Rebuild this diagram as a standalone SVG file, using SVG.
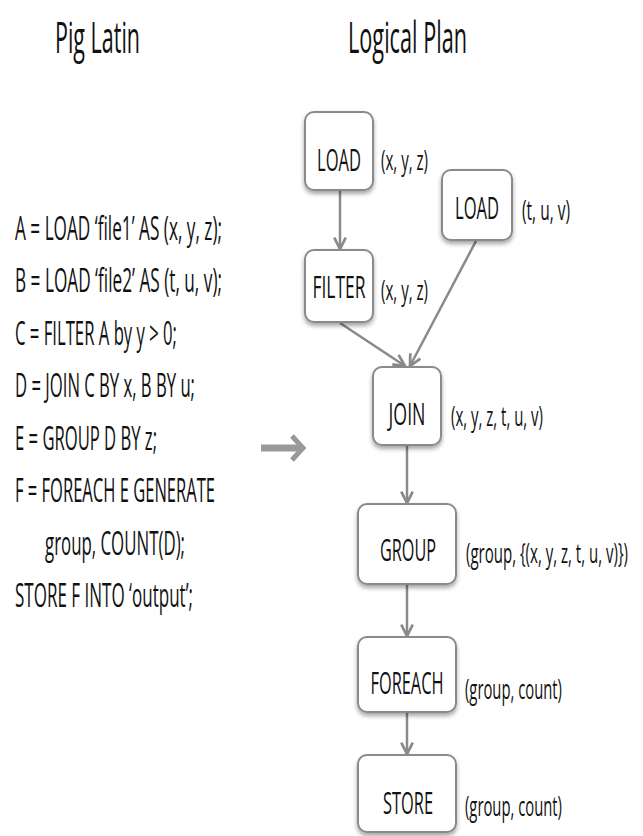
<svg xmlns="http://www.w3.org/2000/svg" width="643" height="836" viewBox="0 0 643 836">
<style>
  text { font-family: "Open Sans", "Liberation Sans", sans-serif; fill: #111; font-weight: 500; }
  .title { font-size: 43px; }
  .code { font-size: 33px; }
  .node text { font-size: 31px; text-anchor: middle; }
  .lbl { font-size: 28px; }
  .box { fill: #fff; stroke: #8a8a8a; stroke-width: 2; filter: url(#sh); }
  .edge { stroke: #8a8a8a; stroke-width: 2.5; fill: none; marker-end: url(#ah); }
</style>
<defs>
  <filter id="sh" x="-20%" y="-20%" width="140%" height="150%">
    <feDropShadow dx="0" dy="3" stdDeviation="2" flood-color="#000" flood-opacity="0.35"/>
  </filter>
  <marker id="ah" viewBox="0 0 12 12" refX="11" refY="6" markerWidth="5.5" markerHeight="5.5" orient="auto" markerUnits="strokeWidth">
    <path d="M1,1 L11,6 L1,11" fill="none" stroke="#8a8a8a" stroke-width="2.4"/>
  </marker>
</defs>

<g id="titles">
  <text class="title" transform="matrix(0.5,0,0,1,55,53)" textLength="170" lengthAdjust="spacingAndGlyphs">Pig Latin</text>
  <text class="title" transform="matrix(0.5,0,0,1,348,53)" textLength="238" lengthAdjust="spacingAndGlyphs">Logical Plan</text>
</g>

<g id="code">
  <text class="code" transform="matrix(0.54,0,0,1,15,240)" textLength="383.3" lengthAdjust="spacingAndGlyphs">A = LOAD ‘file1’ AS (x, y, z);</text>
  <text class="code" transform="matrix(0.54,0,0,1,15,292)" textLength="383.3" lengthAdjust="spacingAndGlyphs">B = LOAD ‘file2’ AS (t, u, v);</text>
  <text class="code" transform="matrix(0.54,0,0,1,15,345)" textLength="300" lengthAdjust="spacingAndGlyphs">C = FILTER A by y &gt; 0;</text>
  <text class="code" transform="matrix(0.54,0,0,1,15,397)" textLength="333.3" lengthAdjust="spacingAndGlyphs">D = JOIN C BY x, B BY u;</text>
  <text class="code" transform="matrix(0.54,0,0,1,15,450)" textLength="263" lengthAdjust="spacingAndGlyphs">E = GROUP D BY z;</text>
  <text class="code" transform="matrix(0.54,0,0,1,15,502)" textLength="370.4" lengthAdjust="spacingAndGlyphs">F = FOREACH E GENERATE</text>
  <text class="code" transform="matrix(0.54,0,0,1,45,555)" textLength="259.3" lengthAdjust="spacingAndGlyphs">group, COUNT(D);</text>
  <text class="code" transform="matrix(0.54,0,0,1,15,607)" textLength="329.6" lengthAdjust="spacingAndGlyphs">STORE F INTO ‘output’;</text>
</g>

<g id="bigarrow" fill="none" stroke="#999" stroke-linecap="butt">
  <line x1="261" y1="448" x2="300" y2="448" stroke-width="7"/>
  <path d="M292,436 L303,448 L292,460" stroke-width="5" stroke-linejoin="miter"/>
</g>

<g id="connectors">
  <line class="edge" x1="340" y1="191" x2="340" y2="249"/>
  <line class="edge" x1="476" y1="241" x2="410" y2="366"/>
  <line class="edge" x1="340" y1="323" x2="405" y2="366"/>
  <line class="edge" x1="407" y1="446" x2="407" y2="503"/>
  <line class="edge" x1="407" y1="585" x2="407" y2="636"/>
  <line class="edge" x1="407" y1="713" x2="407" y2="754"/>
</g>

<g id="load1" class="node">
  <rect class="box" x="305" y="112" width="68" height="78" rx="9"/>
  <text transform="matrix(0.54,0,0,1,339,171)" textLength="81.5" lengthAdjust="spacingAndGlyphs">LOAD</text>
</g>
<g id="load2" class="node">
  <rect class="box" x="442" y="170" width="70" height="70" rx="9"/>
  <text transform="matrix(0.54,0,0,1,477,219)" textLength="81.5" lengthAdjust="spacingAndGlyphs">LOAD</text>
</g>
<g id="filter" class="node">
  <rect class="box" x="305" y="250" width="68" height="72" rx="9"/>
  <text transform="matrix(0.54,0,0,1,339,298)" textLength="98.1" lengthAdjust="spacingAndGlyphs">FILTER</text>
</g>
<g id="join" class="node">
  <rect class="box" x="373" y="367" width="68" height="78" rx="9"/>
  <text transform="matrix(0.54,0,0,1,407,425)" textLength="68.5" lengthAdjust="spacingAndGlyphs">JOIN</text>
</g>
<g id="group" class="node">
  <rect class="box" x="358" y="504" width="98" height="80" rx="9"/>
  <text transform="matrix(0.54,0,0,1,408,561)" textLength="103.7" lengthAdjust="spacingAndGlyphs">GROUP</text>
</g>
<g id="foreach" class="node">
  <rect class="box" x="358" y="637" width="98" height="75" rx="9"/>
  <text transform="matrix(0.54,0,0,1,407,694)" textLength="135.2" lengthAdjust="spacingAndGlyphs">FOREACH</text>
</g>
<g id="store" class="node">
  <rect class="box" x="358" y="755" width="98" height="77" rx="9"/>
  <text transform="matrix(0.54,0,0,1,408,814)" textLength="92.6" lengthAdjust="spacingAndGlyphs">STORE</text>
</g>

<g id="labels">
  <text class="lbl" transform="matrix(0.54,0,0,1,381,170)" textLength="87" lengthAdjust="spacingAndGlyphs">(x, y, z)</text>
  <text class="lbl" transform="matrix(0.54,0,0,1,522,220)" textLength="88.9" lengthAdjust="spacingAndGlyphs">(t, u, v)</text>
  <text class="lbl" transform="matrix(0.54,0,0,1,381,300)" textLength="87" lengthAdjust="spacingAndGlyphs">(x, y, z)</text>
  <text class="lbl" transform="matrix(0.54,0,0,1,451,426)" textLength="170.4" lengthAdjust="spacingAndGlyphs">(x, y, z, t, u, v)</text>
  <text class="lbl" transform="matrix(0.54,0,0,1,466,563)" textLength="300" lengthAdjust="spacingAndGlyphs">(group, {(x, y, z, t, u, v)})</text>
  <text class="lbl" transform="matrix(0.54,0,0,1,465,699)" textLength="179.6" lengthAdjust="spacingAndGlyphs">(group, count)</text>
  <text class="lbl" transform="matrix(0.54,0,0,1,465,816)" textLength="179.6" lengthAdjust="spacingAndGlyphs">(group, count)</text>
</g>
</svg>
